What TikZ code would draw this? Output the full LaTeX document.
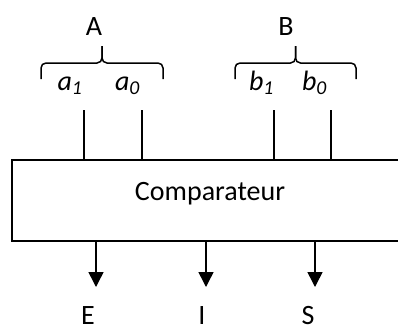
\documentclass[tikz,border=0pt]{standalone}
\usepackage{fontspec}
\setmainfont{Carlito}
\usetikzlibrary{arrows.meta,positioning}

\begin{document}
\begin{tikzpicture}[
    x=1pt, y=-1pt,
    font=\fontsize{28}{33}\selectfont,
    box/.style={rectangle, draw, line width=1.5pt, minimum width=396pt, minimum height=81pt},
    lbl/.style={anchor=base, inner sep=0pt},
    bit/.style={anchor=base, inner sep=0pt, font=\fontsize{28}{33}\selectfont\itshape},
    wire/.style={line width=1.5pt},
    arrow/.style={-{Triangle[length=15pt, width=15pt]}, line width=1.5pt},
    grp/.style={line width=1.5pt, rounded corners=5pt},
  ]
  \clip (0,0) rectangle (398,325);

  % Comparator block
  \node[box] (cmp) at (210,200.5) {};
  \node[lbl] (cmptxt) at (210,200) {Comparateur};

  % Input A
  \node[lbl] (A) at (94,35) {A};
  \coordinate (Al) at (41,79);
  \coordinate (Ar) at (163,79);
  \coordinate (Am) at (102,63);
  \coordinate (At) at (102,46);
  \draw[grp] (Al) |- (Am) -- (At);
  \draw[grp] (Ar) |- (Am) -- (At);
  \node[bit] (a1) at (70,90) {a\textsubscript{1}};
  \node[bit] (a0) at (127.5,90) {a\textsubscript{0}};

  % Input B
  \node[lbl] (B) at (286,35) {B};
  \coordinate (Bl) at (235,79);
  \coordinate (Br) at (356,79);
  \coordinate (Bm) at (295.5,63);
  \coordinate (Bt) at (295.5,46);
  \draw[grp] (Bl) |- (Bm) -- (Bt);
  \draw[grp] (Br) |- (Bm) -- (Bt);
  \node[bit] (b1) at (261.5,90) {b\textsubscript{1}};
  \node[bit] (b0) at (314.5,90) {b\textsubscript{0}};

  % Input wires
  \coordinate (ia1) at (84,110);
  \coordinate (ia0) at (142,110);
  \coordinate (ib1) at (274,110);
  \coordinate (ib0) at (331,110);
  \foreach \w in {ia1,ia0,ib1,ib0}
    \draw[wire] (\w) -- (\w |- cmp.north);

  % Outputs
  \coordinate (oE) at (96,287);
  \coordinate (oI) at (206,287);
  \coordinate (oS) at (315,287);
  \foreach \o in {oE,oI,oS}
    \draw[arrow] (\o |- cmp.south) -- (\o);
  \node[lbl] (E) at (88,324) {E};
  \node[lbl] (I) at (202,324) {I};
  \node[lbl] (S) at (308,324) {S};
\end{tikzpicture}
\end{document}
